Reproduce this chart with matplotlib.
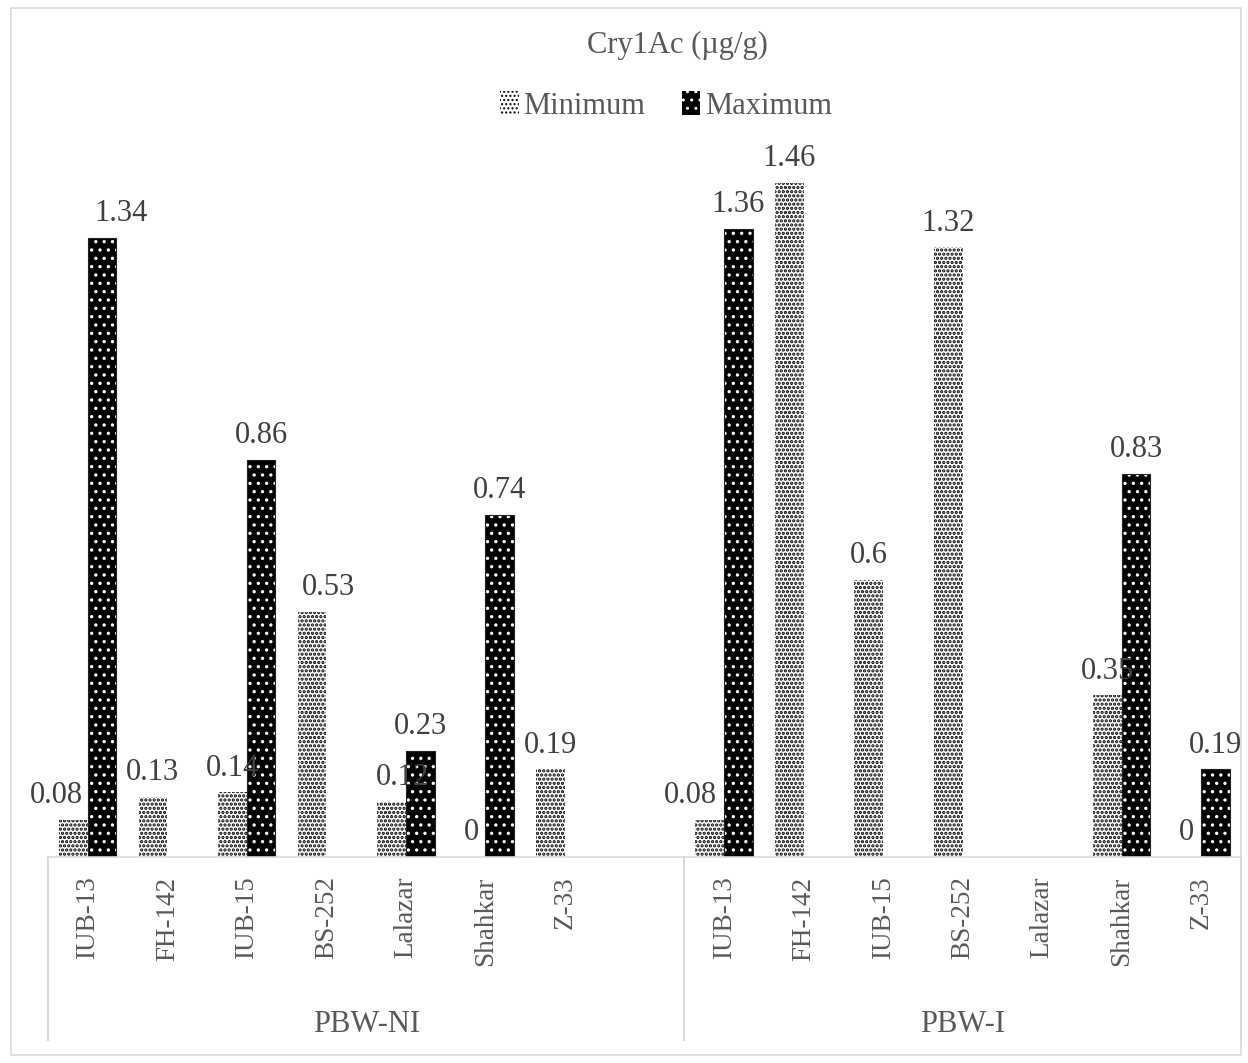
import matplotlib
matplotlib.use("Agg")
import matplotlib.pyplot as plt
import numpy as np
from matplotlib.patches import Rectangle, Patch
from matplotlib.lines import Line2D

plt.rcParams["font.family"] = ["Liberation Serif", "DejaVu Serif"]

# data
groups = ["PBW-NI", "PBW-I"]
cultivars = ["IUB-13", "FH-142", "IUB-15", "BS-252", "Lalazar", "Shahkar", "Z-33"]
minimum_ni = [0.08, 0.13, 0.14, 0.53, 0.12, 0, 0.19]
maximum_ni = [1.34, None, 0.86, None, 0.23, 0.74, None]
minimum_i = [0.08, 1.46, 0.6, 1.32, None, 0.35, 0]
maximum_i = [1.36, None, None, None, None, 0.83, 0.19]

TXT = "#595959"
GRID = "#d9d9d9"
MIN_HATCH = "...."
MAX_HATCH = ".."

# label nudges in points (Excel had a few labels dragged sideways)
nudge = {
    ("PBW-NI", 0, "min"): -12,
    ("PBW-NI", 0, "max"): 14,
    ("PBW-NI", 3, "min"): 12,
    ("PBW-NI", 4, "min"): 8,
    ("PBW-I", 0, "min"): -14,
}

W, H = 1248, 1063
fig = plt.figure(figsize=(W / 100, H / 100), dpi=100)
ax = fig.add_axes([48 / W, (H - 857) / H, (1241 - 48) / W, (857 - 118) / H])

# category slots: 8 in the first group (last one empty), 7 in the second
pos_ni = np.arange(len(cultivars)) + 0.5
pos_i = np.arange(len(cultivars)) + 8.5
bw = 0.36


def bars(pos, vals, side, kind, grp):
    x = [p + side * bw / 2 for p, v in zip(pos, vals) if v is not None]
    h = [v for v in vals if v is not None]
    idx = [i for i, v in enumerate(vals) if v is not None]
    if kind == "min":
        with plt.rc_context({"hatch.linewidth": 1.6}):
            ax.bar(x, h, width=bw, color="white", edgecolor="black",
                   linewidth=0, hatch=MIN_HATCH)
    else:
        with plt.rc_context({"hatch.linewidth": 1.2}):
            ax.bar(x, h, width=bw, color="black", edgecolor="white",
                   linewidth=0, hatch=MAX_HATCH)
        ax.bar(x, h, width=bw, fill=False, edgecolor="#222222", linewidth=0.8)
    for xi, hi, i in zip(x, h, idx):
        dx = nudge.get((grp, i, kind), 0)
        ax.annotate("{:g}".format(hi), (xi, hi), xytext=(dx, 7),
                    textcoords="offset points", ha="center", va="bottom",
                    fontsize=22, color="#404040")


bars(pos_ni, minimum_ni, -1, "min", "PBW-NI")
bars(pos_ni, maximum_ni, 1, "max", "PBW-NI")
bars(pos_i, minimum_i, -1, "min", "PBW-I")
bars(pos_i, maximum_i, 1, "max", "PBW-I")

ax.set_xlim(0, 15)
ax.set_ylim(0, 1.6)
for s in ["top", "right", "left"]:
    ax.spines[s].set_visible(False)
ax.spines["bottom"].set_color(GRID)
ax.spines["bottom"].set_linewidth(1.2)
ax.set_yticks([])
ax.set_xticks(list(pos_ni) + list(pos_i))
ax.set_xticklabels(cultivars + cultivars, rotation=90, fontsize=19.5, color=TXT, va="top")
ax.tick_params(axis="x", length=0, pad=14)

# multi-level category axis
y_low = -(1040 - 857) / (857 - 118)
for xv in [0, 8, 15]:
    ax.add_line(Line2D([xv, xv], [0, y_low], transform=ax.get_xaxis_transform(),
                       color=GRID, linewidth=1.5, clip_on=False))
y_grp = -(1025 - 857) / (857 - 118)
ax.text(4, y_grp, groups[0], transform=ax.get_xaxis_transform(), ha="center",
        va="center", fontsize=22, color=TXT)
ax.text(11.5, y_grp, groups[1], transform=ax.get_xaxis_transform(), ha="center",
        va="center", fontsize=22, color=TXT)

# title and legend
fig.text(677 / W, 1 - 45 / H, "Cry1Ac (\u00b5g/g)", ha="center", va="center",
         fontsize=22, color=TXT)
with plt.rc_context({"hatch.linewidth": 1.6}):
    h_min = Patch(facecolor="white", edgecolor="black", linewidth=0, hatch=MIN_HATCH)
with plt.rc_context({"hatch.linewidth": 1.2}):
    h_max = Patch(facecolor="black", edgecolor="white", linewidth=0, hatch=MAX_HATCH)
leg = fig.legend([h_min, h_max], ["Minimum", "Maximum"], loc="center",
                 bbox_to_anchor=(666 / W, 1 - 106 / H), ncol=2, frameon=False,
                 fontsize=22, handlelength=0.6, handleheight=0.8,
                 handletextpad=0.15, columnspacing=1.2)
for t in leg.get_texts():
    t.set_color(TXT)

# chart border
fig.add_artist(Rectangle((11 / W, 8 / H), (1241 - 11) / W, (1055 - 8) / H,
                         transform=fig.transFigure, fill=False,
                         edgecolor=GRID, linewidth=1.2))

fig.savefig("out.png", dpi=100)
